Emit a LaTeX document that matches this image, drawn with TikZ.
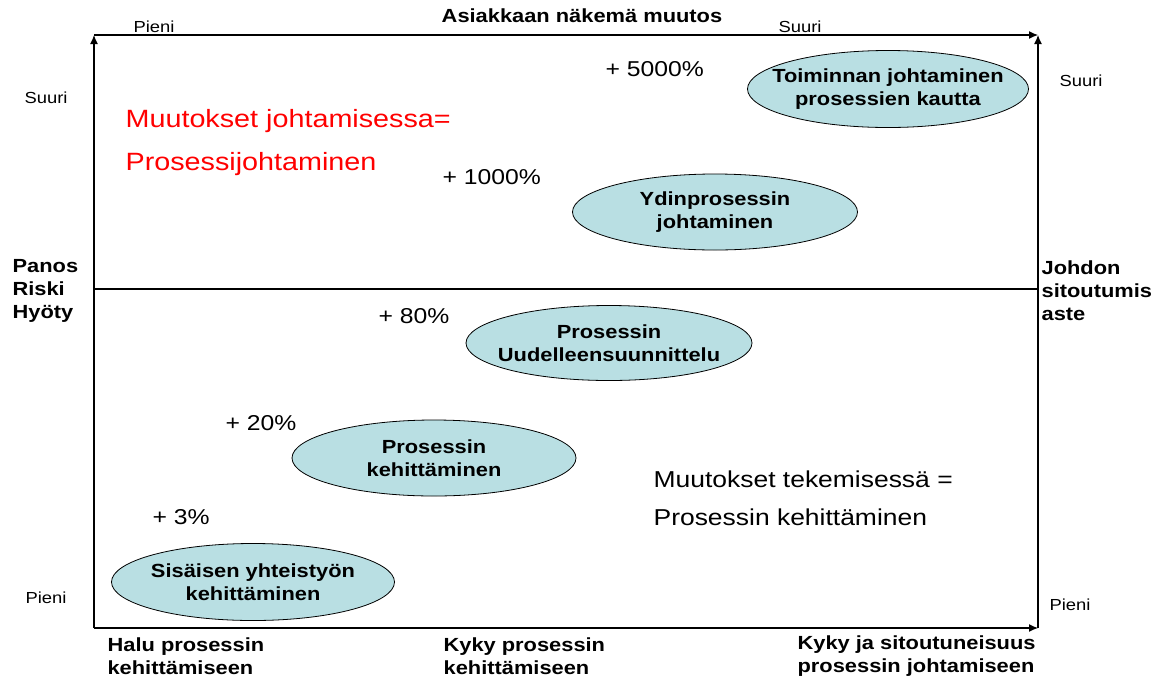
\documentclass[tikz,border=0pt]{standalone}
\usepackage{fontspec}
\setmainfont{Liberation Sans}[FakeStretch=1.15]
\usetikzlibrary{shapes.geometric,arrows.meta}
\definecolor{procfill}{RGB}{185,223,227}

\begin{document}
\begin{tikzpicture}[x=1pt,y=-1pt,>={Latex[length=9pt,width=8pt]},line width=1.2pt]
 \tikzstyle{procnode} = [draw,ellipse,fill=procfill,line width=0.8pt,inner sep=0]
 \tikzstyle{proctext} = [inner sep=0,align=center,font=\fontsize{19}{23}\selectfont\bfseries]
 \tikzstyle{scalelbl} = [inner sep=0,font=\fontsize{16}{19}\selectfont]
 \tikzstyle{axislbl} = [inner sep=0,align=left,anchor=west,font=\fontsize{19}{23}\selectfont\bfseries]
 \tikzstyle{pctlbl} = [inner sep=0,anchor=base west,font=\fontsize{21.5}{25}\selectfont]
 \tikzstyle{bigtext} = [inner sep=0,anchor=base west,font=\fontsize{23}{28}\selectfont]
 \useasboundingbox (0,0) rectangle (1159,678);

 \coordinate (tl) at (94,35);
 \coordinate (tr) at (1038,35);
 \coordinate (bl) at (94,628);
 \coordinate (br) at (1038,628);
 \coordinate (ml) at (94,289);
 \coordinate (mr) at (1038,289);
 \draw[->] (bl) -- (tl);
 \draw[->] (tl) -- (tr);
 \draw[->] (br) -- (tr);
 \draw[->] (bl) -- (br);
 \draw (ml) -- (mr);

 \node[proctext] (title) at (582,16) {Asiakkaan näkemä muutos};
 \node[scalelbl] (topsmall) at (154,27) {Pieni};
 \node[scalelbl] (toplarge) at (800,27) {Suuri};
 \node[scalelbl] (leftlarge) at (46,98) {Suuri};
 \node[scalelbl] (leftsmall) at (46,598) {Pieni};
 \node[scalelbl] (rightlarge) at (1081,81) {Suuri};
 \node[scalelbl] (rightsmall) at (1070,605) {Pieni};

 \node[axislbl] (effort) at (12,291) {Panos\\Riski\\Hyöty};
 \node[axislbl] (commit) at (1041,291) {Johdon\\sitoutumis\\aste};
 \node[axislbl] (will) at (107,656) {Halu prosessin\\kehittämiseen};
 \node[axislbl] (ability) at (443,656) {Kyky prosessin\\kehittämiseen};
 \node[axislbl] (mgmt) at (797,656) {Kyky ja sitoutuneisuus\\prosessin johtamiseen};

 \node[bigtext,red,font=\fontsize{25}{30}\selectfont] (mgmtchg) at (125,127) {Muutokset johtamisessa=};
 \node[bigtext,red,font=\fontsize{25}{30}\selectfont] (mgmtchg2) at (125,170) {Prosessijohtaminen};
 \node[bigtext] (workchg) at (653,487) {Muutokset tekemisessä =};
 \node[bigtext] (workchg2) at (653,525) {Prosessin kehittäminen};

 \node[procnode,minimum width=281,minimum height=77] (e1) at (888,89) {};
 \node[proctext] at (e1) {Toiminnan johtaminen\\prosessien kautta};
 \node[procnode,minimum width=285,minimum height=76] (e2) at (715,212) {};
 \node[proctext] at (e2) {Ydinprosessin\\johtaminen};
 \node[procnode,minimum width=286,minimum height=75] (e3) at (609,343) {};
 \node[proctext] at (e3) {Prosessin\\Uudelleensuunnittelu};
 \node[procnode,minimum width=284,minimum height=76] (e4) at (434,458) {};
 \node[proctext] at (e4) {Prosessin\\kehittäminen};
 \node[procnode,minimum width=283,minimum height=77] (e5) at (253,582) {};
 \node[proctext] at (e5) {Sisäisen yhteistyön\\kehittäminen};

 \node[pctlbl] (p1) at (605,76) {+ 5000\%};
 \node[pctlbl] (p2) at (442,184) {+ 1000\%};
 \node[pctlbl] (p3) at (378,323) {+ 80\%};
 \node[pctlbl] (p4) at (225,430) {+ 20\%};
 \node[pctlbl] (p5) at (152,524) {+ 3\%};
\end{tikzpicture}
\end{document}
